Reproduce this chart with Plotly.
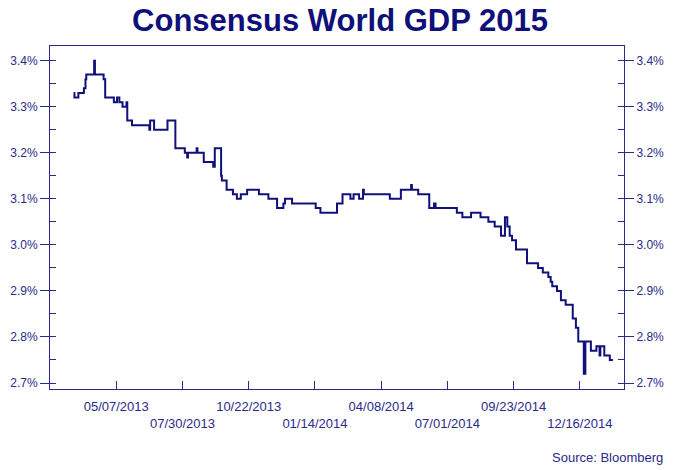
import plotly.graph_objects as go

# ── data (step changes of the consensus, %) ────────────────────────────────────
dates = [
    "2013-03-14", "2013-03-15", "2013-03-20", "2013-03-27", "2013-03-29", "2013-03-30",
    "2013-04-09", "2013-04-10", "2013-04-21", "2013-04-23", "2013-05-04", "2013-05-08",
    "2013-05-11", "2013-05-15", "2013-05-20", "2013-05-21", "2013-05-27", "2013-06-18",
    "2013-06-19", "2013-06-24", "2013-07-11", "2013-07-21", "2013-08-02", "2013-08-05",
    "2013-08-06", "2013-08-17", "2013-08-18", "2013-08-26", "2013-09-07", "2013-09-09",
    "2013-09-17", "2013-09-18", "2013-09-24", "2013-10-02", "2013-10-07", "2013-10-12",
    "2013-10-20", "2013-11-04", "2013-11-16", "2013-11-18", "2013-11-27", "2013-12-05",
    "2013-12-07", "2013-12-16", "2014-01-15", "2014-01-21", "2014-02-11", "2014-02-18",
    "2014-02-28", "2014-03-04", "2014-03-11", "2014-03-16", "2014-03-17", "2014-04-19",
    "2014-05-03", "2014-05-16", "2014-05-17", "2014-05-25", "2014-06-08", "2014-06-14",
    "2014-06-16", "2014-07-13", "2014-07-20", "2014-07-31", "2014-08-12", "2014-08-22",
    "2014-08-30", "2014-09-07", "2014-09-12", "2014-09-15", "2014-09-18", "2014-09-21",
    "2014-09-26", "2014-10-10", "2014-10-24", "2014-10-30", "2014-11-06", "2014-11-09",
    "2014-11-11", "2014-11-17", "2014-11-22", "2014-11-28", "2014-12-07", "2014-12-11",
    "2014-12-14", "2014-12-21", "2014-12-23", "2014-12-30", "2015-01-06", "2015-01-10",
    "2015-01-11", "2015-01-16", "2015-01-23", "2015-01-27",
]
gdp = [
    3.33, 3.32, 3.33, 3.34, 3.36, 3.37,
    3.40, 3.37, 3.36, 3.32, 3.31, 3.32,
    3.31, 3.30, 3.31, 3.27, 3.26, 3.25,
    3.27, 3.25, 3.27, 3.21, 3.20, 3.19,
    3.20, 3.21, 3.20, 3.18, 3.17, 3.21,
    3.15, 3.14, 3.12, 3.11, 3.10, 3.11,
    3.12, 3.11, 3.10, 3.10, 3.08, 3.09,
    3.10, 3.09, 3.08, 3.07, 3.09, 3.11,
    3.10, 3.11, 3.10, 3.12, 3.11, 3.10,
    3.12, 3.13, 3.12, 3.11, 3.08, 3.09,
    3.08, 3.07, 3.06, 3.07, 3.06, 3.05,
    3.04, 3.02, 3.06, 3.04, 3.02, 3.01,
    2.99, 2.96, 2.95, 2.94, 2.93, 2.92,
    2.91, 2.90, 2.88, 2.87, 2.84, 2.82,
    2.79, 2.72, 2.79, 2.77, 2.78, 2.76,
    2.78, 2.76, 2.75, 2.75,
]

tick_dates = ["2013-05-07", "2013-07-30", "2013-10-22", "2014-01-14",
              "2014-04-08", "2014-07-01", "2014-09-23", "2014-12-16"]
tick_labels = ["05/07/2013", "07/30/2013", "10/22/2013", "01/14/2014",
               "04/08/2014", "07/01/2014", "09/23/2014", "12/16/2014"]
# alternate labels drop to a second row
tick_text = [t if i % 2 == 0 else "<br>" + t for i, t in enumerate(tick_labels)]

NAVY = "#10107a"
AXIS = "#2a2a88"
FONT = "Liberation Sans, Arial"
y_range = [2.687, 3.432]

fig = go.Figure()
fig.add_trace(go.Scatter(x=dates, y=gdp, mode="lines", line_shape="hv",
                         line=dict(color=NAVY, width=2), showlegend=False))
# same series on the right-hand axis so that axis gets drawn
fig.add_trace(go.Scatter(x=dates, y=gdp, mode="lines", line_shape="hv", yaxis="y2",
                         line=dict(color=NAVY, width=0), opacity=0,
                         hoverinfo="skip", showlegend=False))

yax = dict(range=y_range, dtick=0.1, tick0=2.7, tickformat=".1f", ticksuffix="%",
           ticks="outside", ticklen=9, tickwidth=1, tickcolor=AXIS,
           minor=dict(dtick=0.05, tick0=2.7, ticks="inside", ticklen=6,
                      tickcolor=AXIS, showgrid=False),
           showgrid=False, zeroline=False, showline=True, linecolor=AXIS,
           linewidth=1, automargin=False,
           tickfont=dict(family=FONT, size=12, color=AXIS))

fig.update_layout(
    width=680, height=470,
    margin=dict(l=50, r=56, t=46, b=81, autoexpand=False),
    paper_bgcolor="white", plot_bgcolor="white",
    title=dict(text="<b>Consensus World GDP 2015</b>", x=0.5, xanchor="center",
               y=0.957, yanchor="middle",
               font=dict(family=FONT, size=31, color=NAVY)),
    xaxis=dict(range=["2013-02-12", "2015-02-10"], tickmode="array",
               tickvals=tick_dates, ticktext=tick_text, ticks="inside",
               ticklen=8, tickcolor=AXIS, showgrid=False, zeroline=False,
               showline=True, mirror=True, linecolor=AXIS, linewidth=1,
               automargin=False, ticklabelstandoff=5, tickangle=0,
               tickfont=dict(family=FONT, size=13, color=AXIS)),
    yaxis=yax,
    yaxis2=dict(yax, overlaying="y", side="right", matches="y"),
    annotations=[dict(text="Source: Bloomberg", xref="paper", yref="paper",
                      x=1.0714, y=-0.201, xanchor="right", yanchor="middle",
                      showarrow=False,
                      font=dict(family=FONT, size=13, color=AXIS))],
)

# the page's default body margin would push the fixed-size figure off the window
fig.write_html("out.html", config={"displayModeBar": False},
               post_script="document.body.style.margin='0';"
                           "document.body.style.overflow='hidden';")
